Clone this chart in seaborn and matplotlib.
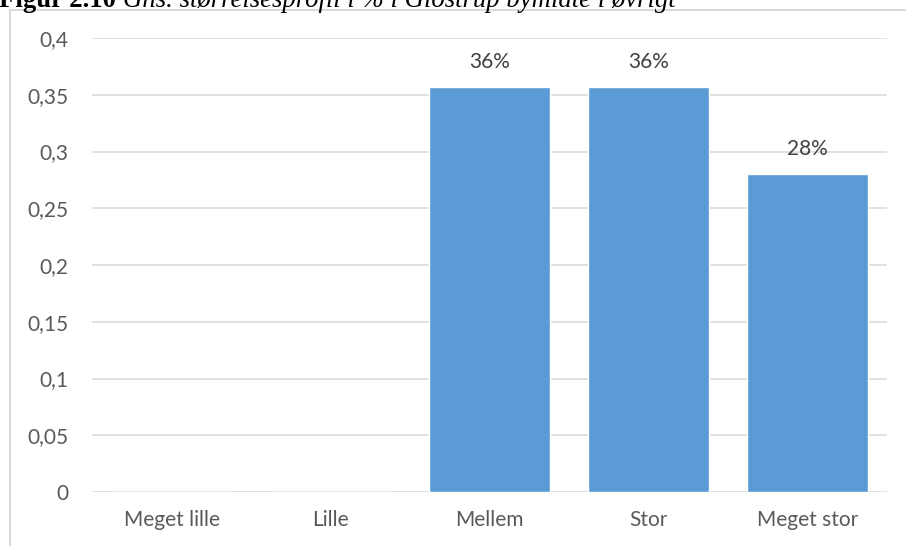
import matplotlib
matplotlib.use("Agg")
import matplotlib.pyplot as plt
from matplotlib.lines import Line2D
from matplotlib.ticker import FixedLocator
import seaborn as sns
import pandas as pd

# Size categories and their average share
categories = ["Meget lille", "Lille", "Mellem", "Stor", "Meget stor"]
shares = [0.0, 0.0, 0.357, 0.357, 0.28]
y_ticks = [0, 0.05, 0.1, 0.15, 0.2, 0.25, 0.3, 0.35, 0.4]
y_tick_labels = ["0", "0,05", "0,1", "0,15", "0,2", "0,25", "0,3", "0,35", "0,4"]
title_bold = "Figur 2.10"
title_rest = "Gns. størrelsesprofil i % i Glostrup bymidte i øvrigt"

sns.set_theme(style="white")
plt.rcParams["font.family"] = ["Lato", "DejaVu Sans"]

W, H = 906, 546
fig = plt.figure(figsize=(W / 100, H / 100), dpi=100)
ax = fig.add_axes([92 / W, 1 - 492 / H, (887 - 92) / W, (492 - 38) / H])

df = pd.DataFrame({"kategori": categories, "andel": shares})
sns.barplot(data=df, x="kategori", y="andel", color="#5B9BD5", saturation=1,
            width=0.767, ax=ax, zorder=3)

ax.set_ylim(0, 0.4)
ax.set_xlim(-0.5, len(categories) - 0.5)
ax.yaxis.set_major_locator(FixedLocator(y_ticks))
ax.set_yticklabels(y_tick_labels)
ax.grid(axis="y", color="#D9D9D9", linewidth=1.1, zorder=0)
ax.grid(axis="x", visible=False)
for s in ax.spines.values():
    s.set_visible(False)
ax.set_xlabel("")
ax.set_ylabel("")
ax.tick_params(axis="y", length=0, pad=17, labelsize=15, labelcolor="#595959")
ax.tick_params(axis="x", length=0, pad=13, labelsize=15, labelcolor="#595959")

# Percentage labels above the non-empty bars
for i, v in enumerate(shares):
    if v > 0:
        ax.text(i, v + 0.013, f"{round(v * 100):.0f}%", ha="center", va="bottom",
                fontsize=15, color="#404040")

# Light frame around the chart area
fig.add_artist(Line2D([9.5 / W, 9.5 / W], [0, 1 - 9.5 / H], color="#D9D9D9", lw=1.4,
                      transform=fig.transFigure))
fig.add_artist(Line2D([9.5 / W, 1], [1 - 9.5 / H, 1 - 9.5 / H], color="#D9D9D9", lw=1.4,
                      transform=fig.transFigure))

# Caption line at the very top
serif = ["Liberation Serif", "DejaVu Serif"]
t1 = fig.text(-1 / W, 1 - 7 / H, title_bold, fontsize=19.3, fontweight="bold",
              family=serif, ha="left", va="baseline", color="black")
fig.canvas.draw()
bb = t1.get_window_extent(renderer=fig.canvas.get_renderer())
fig.text(bb.x1 / W + 7 / W, 1 - 7 / H, title_rest, fontsize=19.3, style="italic",
         family=serif, ha="left", va="baseline", color="black")

fig.savefig("out.png", dpi=100)
